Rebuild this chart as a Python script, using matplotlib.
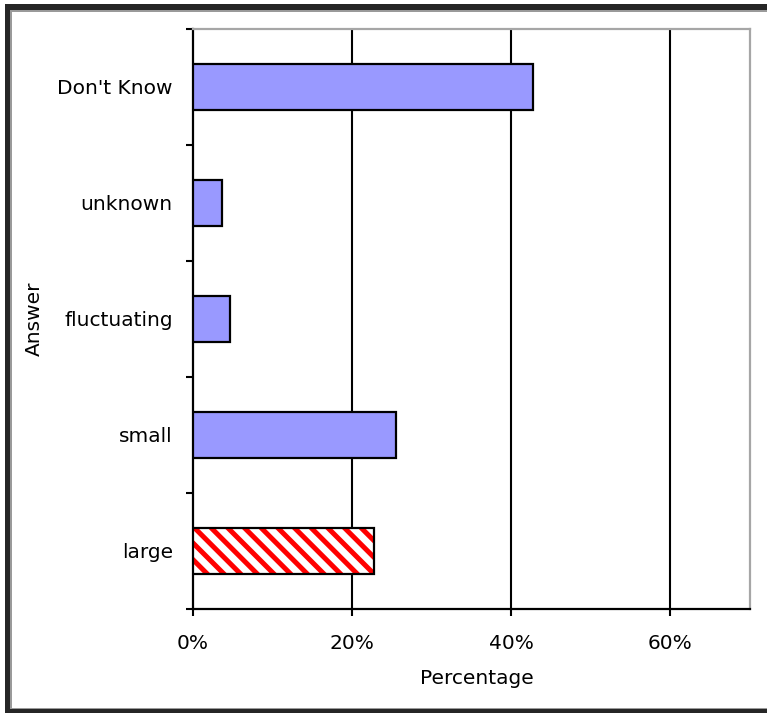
import matplotlib
matplotlib.use("Agg")
import matplotlib.pyplot as plt
from matplotlib.patches import Rectangle
from matplotlib.ticker import FixedLocator, PercentFormatter

# Survey answers (bottom to top) and their share of responses in percent
answers = ["large", "small", "fluctuating", "unknown", "Don't Know"]
percentages = [22.8, 25.5, 4.7, 3.6, 42.7]
x_ticks = [0, 20, 40, 60]

plt.rcParams["font.family"] = ["DejaVu Sans"]
plt.rcParams["hatch.linewidth"] = 3.6

W, H = 767, 713
fig = plt.figure(figsize=(W / 100, H / 100), dpi=100)
fig.patch.set_facecolor("white")
ax = fig.add_axes([193 / W, 1 - 609 / H, 557 / W, 580 / H])

pos = list(range(len(answers)))
bar_h = 0.4

for i, (lab, val) in enumerate(zip(answers, percentages)):
    if lab == "large":
        # red diagonal stripes with a black outline
        ax.barh(i, val, height=bar_h, color="white", edgecolor="red",
                hatch="\\\\", linewidth=0, zorder=3)
        ax.barh(i, val, height=bar_h, fill=False, edgecolor="black",
                linewidth=1.6, zorder=4)
    else:
        ax.barh(i, val, height=bar_h, color="#9999ff", edgecolor="black",
                linewidth=1.6, zorder=3)

ax.set_xlim(0, 70)
ax.set_ylim(-0.5, len(answers) - 0.5)

# vertical gridlines
for xv in x_ticks[1:]:
    ax.axvline(xv, color="black", linewidth=1.5, zorder=1)

ax.xaxis.set_major_locator(FixedLocator(x_ticks))
ax.xaxis.set_major_formatter(PercentFormatter(decimals=0))
ax.set_yticks(pos)
ax.set_yticklabels(answers)
ax.yaxis.set_minor_locator(FixedLocator([p - 0.5 for p in pos] + [pos[-1] + 0.5]))

ax.tick_params(axis="x", which="major", length=5, width=1.5, direction="out",
               labelsize=14.5, pad=13, color="black")
ax.tick_params(axis="y", which="major", length=0, labelsize=14.5, pad=14.5)
ax.tick_params(axis="y", which="minor", length=5, width=1.5, direction="out",
               color="black")

for side in ("left", "bottom"):
    ax.spines[side].set_color("black")
    ax.spines[side].set_linewidth(1.6)
for side in ("top", "right"):
    ax.spines[side].set_color("#a6a6a6")
    ax.spines[side].set_linewidth(1.6)

ax.set_xlabel("Percentage", fontsize=14.5)
ax.xaxis.set_label_coords(0.51, -0.119)
ax.xaxis.label.set_va("center")
ax.set_ylabel("Answer", fontsize=14.5)
ax.yaxis.set_label_coords(-0.284, 0.5)
ax.yaxis.label.set_va("center")

# dark window frame on left, top and bottom (pixel boxes measured from the top)
frame = [
    (5, 4, 5, H - 4, "#262626"),
    (10, 10, 1.5, H - 14, "#9a9a9a"),
    (5, 4, W - 5, 6, "#262626"),
    (10, 10, W - 10, 1.5, "#9a9a9a"),
    (5, 709, W - 5, 4, "#262626"),
    (10, 707.5, W - 10, 1.5, "#9a9a9a"),
]
for x0, y0, w, h, c in frame:
    fig.patches.append(Rectangle((x0 / W, 1 - (y0 + h) / H), w / W, h / H,
                                 transform=fig.transFigure, color=c,
                                 linewidth=0, zorder=10))

fig.savefig("out.png", dpi=100, facecolor="white")
